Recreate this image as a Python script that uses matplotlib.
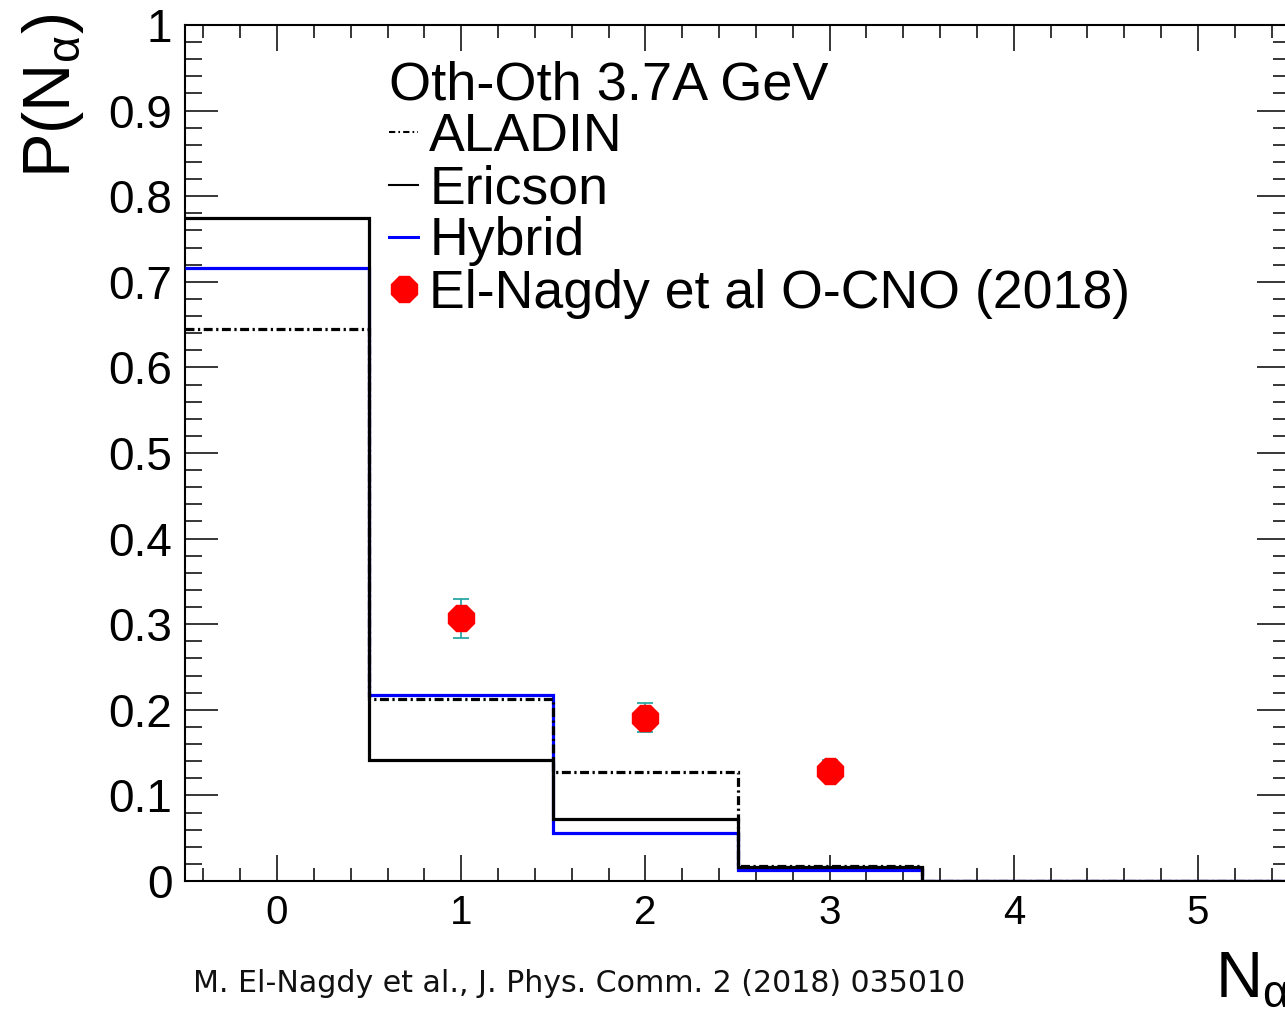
import matplotlib
matplotlib.use("Agg")
import matplotlib.pyplot as plt
from matplotlib.lines import Line2D
from matplotlib.ticker import MultipleLocator, FixedLocator, FixedFormatter

# Alpha multiplicity distributions, O-emulsion at 3.7A GeV
bin_edges = [-0.5, 0.5, 1.5, 2.5, 3.5, 4.5, 5.5]
aladin = [0.645, 0.213, 0.127, 0.018, 0.0, 0.0]
ericson = [0.775, 0.141, 0.072, 0.016, 0.0, 0.0]
hybrid = [0.716, 0.217, 0.056, 0.013, 0.0, 0.0]

data_x = [1, 2, 3]
data_y = [0.307, 0.191, 0.129]
data_err = [0.023, 0.017, 0.012]

y_ticks = [0.0, 0.1, 0.2, 0.3, 0.4, 0.5, 0.6, 0.7, 0.8, 0.9, 1.0]
y_tick_labels = ["0", "0.1", "0.2", "0.3", "0.4", "0.5", "0.6", "0.7", "0.8", "0.9", "1"]
x_ticks = [0, 1, 2, 3, 4, 5]
x_tick_labels = ["0", "1", "2", "3", "4", "5"]

plt.rcParams["font.family"] = ["Liberation Sans", "DejaVu Sans"]
plt.rcParams["mathtext.fontset"] = "custom"
plt.rcParams["mathtext.rm"] = "Liberation Sans"
plt.rcParams["mathtext.it"] = "Liberation Sans:italic"
plt.rcParams["mathtext.default"] = "regular"

W, H = 1285, 1011
fig = plt.figure(figsize=(W / 100, H / 100), dpi=100)
ax = fig.add_axes([185 / W, 1 - 881 / H, 1105 / W, 856 / H])

lw = 2.3
dashdot = (0, (2.8, 1.1, 0.7, 1.1))
ax.stairs(hybrid, bin_edges, color="#0000ff", lw=lw, baseline=None, zorder=3)
ax.stairs(ericson, bin_edges, color="black", lw=lw, baseline=None, zorder=4)
ax.stairs(aladin, bin_edges, color="black", lw=lw, ls=dashdot, baseline=None, zorder=5)

ax.errorbar(data_x, data_y, yerr=data_err, fmt="none", ecolor="#2aa6a6",
            elinewidth=1.3, capsize=5.5, capthick=1.3, zorder=6)
ax.plot(data_x, data_y, ls="none", marker="8", ms=20.5, mfc="#ff0000",
        mec="#ff0000", zorder=7)

ax.set_xlim(-0.5, 5.5)
ax.set_ylim(0, 1)

ax.xaxis.set_major_locator(FixedLocator(x_ticks))
ax.xaxis.set_major_formatter(FixedFormatter(x_tick_labels))
ax.xaxis.set_minor_locator(MultipleLocator(0.2))
ax.yaxis.set_major_locator(FixedLocator(y_ticks))
ax.yaxis.set_major_formatter(FixedFormatter(y_tick_labels))
ax.yaxis.set_minor_locator(MultipleLocator(0.02))

ax.tick_params(which="both", direction="in", top=True, right=True, width=1.1,
               color="black")
ax.tick_params(axis="x", which="major", length=18.5, labelsize=29, pad=9)
ax.tick_params(axis="x", which="minor", length=9.3)
ax.tick_params(axis="y", which="major", length=23.5, labelsize=33, pad=9)
ax.tick_params(axis="y", which="minor", length=12)
for s in ax.spines.values():
    s.set_linewidth(1.5)

# Axis titles, placed at the axis ends
fig.text(20 / W, 1 - 14 / H, r"P(N$_{\alpha}$)", rotation=90, ha="left",
         va="top", fontsize=48)
fig.text(1290 / W, 1 - 997 / H, r"N$_{\alpha}$", ha="right", va="baseline",
         fontsize=47)

# Citation line
fig.text(193 / W, 1 - 992 / H, "M. El-Nagdy et al., J. Phys. Comm. 2 (2018) 035010",
         family="DejaVu Sans", fontsize=21.65, color="#111111", ha="left",
         va="baseline")

handles = [
    Line2D([], [], color="black", lw=1.5, ls=(0, (3, 1.5, 0.8, 1.5))),
    Line2D([], [], color="black", lw=1.5),
    Line2D([], [], color="#0000ff", lw=2.2),
    Line2D([], [], ls="none", marker="8", ms=20.5, mfc="#ff0000", mec="#ff0000"),
]
labels = ["ALADIN", "Ericson", "Hybrid", "El-Nagdy et al O-CNO (2018)"]
leg = ax.legend(handles, labels, title="Oth-Oth 3.7A GeV", loc="upper left",
                bbox_to_anchor=(204 / 1105, 1 - 35 / 856), frameon=False,
                fontsize=38.6, title_fontsize=39, handlelength=0.55,
                handletextpad=0.2, labelspacing=0.04, borderpad=0,
                borderaxespad=0, alignment="left")

fig.savefig("out.png", dpi=100)
